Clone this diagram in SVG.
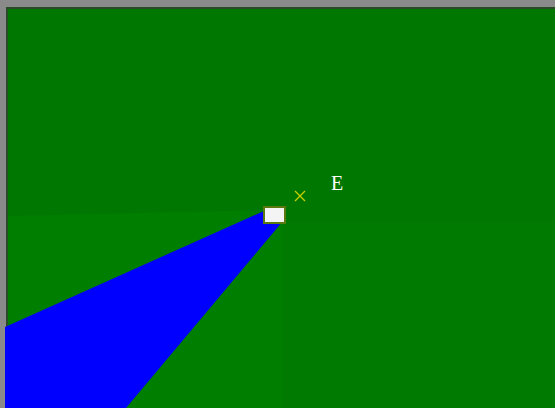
<svg xmlns="http://www.w3.org/2000/svg" width="555" height="408" viewBox="0 0 555 408">
<style>
.lbl{font-family:"Liberation Serif","DejaVu Serif",serif;font-size:20px;fill:#ffffff}
</style>
<rect x="0" y="0" width="555" height="408" fill="#8a8a8a"/>
<rect x="6" y="7" width="549" height="401" fill="#2a4a2a"/>
<rect x="8" y="9" width="547" height="399" fill="#007700"/>
<polygon points="8,216 268,210 282,222 282,408 8,408" fill="#007e00"/>
<rect x="282" y="222" width="273" height="186" fill="#007a00"/>
<g id="wedge">
<polygon points="266,210 283,221 126,408 5,408 5,327" fill="#0000ff"/>
</g>
<g id="device">
<rect x="263" y="206" width="23" height="18" fill="#5a7a10"/>
<rect x="265" y="208" width="19" height="14" fill="#f4f4f4"/>
</g>
<g id="marker">
<path d="M295,191 L305,201 M295,201 L305,191" stroke="#c8d000" stroke-width="1.3"/>
</g>
<g id="label-E">
<text class="lbl" x="331" y="190">E</text>
</g>
</svg>
